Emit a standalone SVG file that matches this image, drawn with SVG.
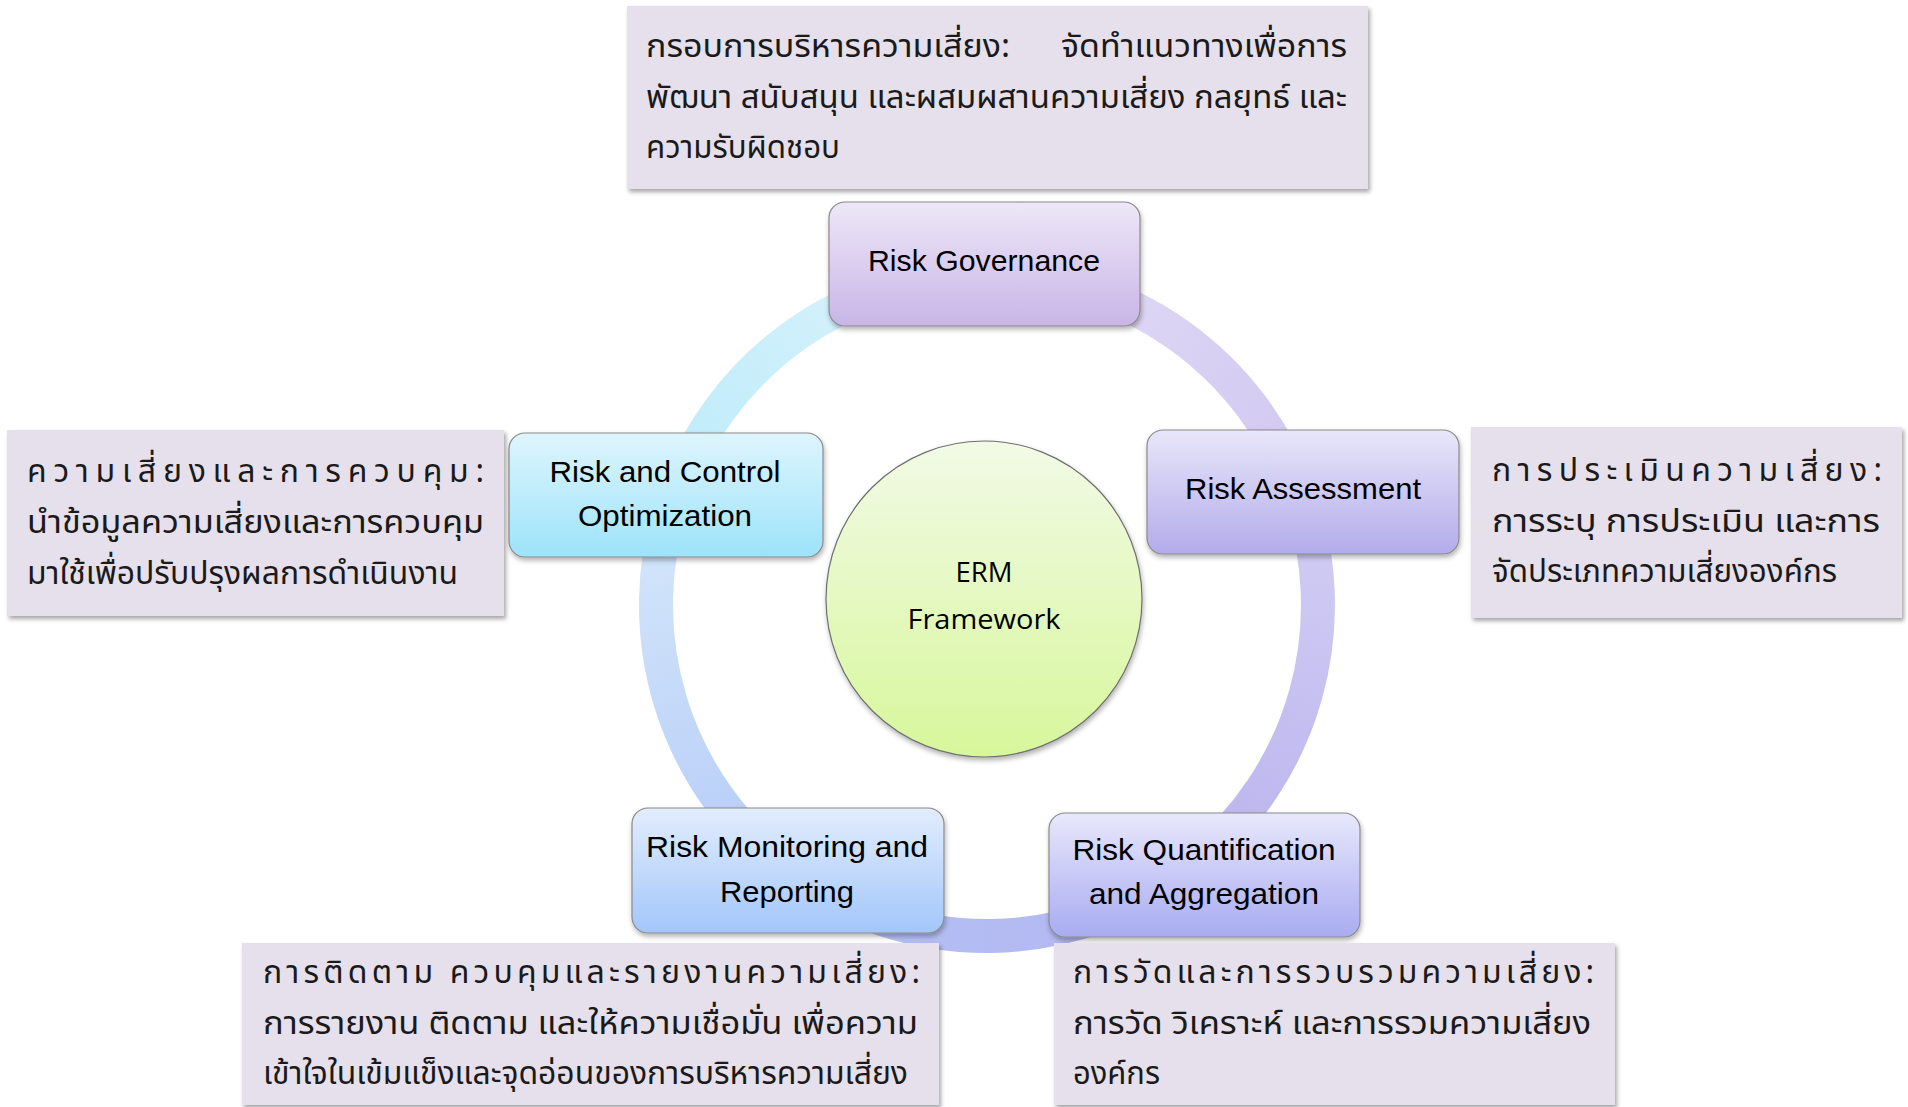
<svg xmlns="http://www.w3.org/2000/svg" width="1908" height="1107" viewBox="0 0 1908 1107">
<style>
.call{fill:#E5E0EC;filter:url(#sh)}
.node{stroke:#8A8A8A;stroke-width:1.2;filter:url(#shn)}
.th{font-family:"Noto Sans Thai","Noto Sans","DejaVu Sans",sans-serif;font-size:32px;fill:#1a1a1a}
.en{font-family:"Liberation Sans Narrow","Liberation Sans",sans-serif;font-size:30px;fill:#000;text-anchor:middle}
.erm{font-family:"Open Sans","Liberation Sans",sans-serif;font-size:28px;fill:#000;text-anchor:middle}
.arc{fill:none;stroke-width:34}
</style>
<defs>
<filter id="sh" x="-5%" y="-5%" width="110%" height="115%"><feDropShadow dx="2" dy="3" stdDeviation="2" flood-color="#000" flood-opacity="0.35"/></filter>
<filter id="shn" x="-5%" y="-5%" width="110%" height="115%"><feDropShadow dx="1" dy="3" stdDeviation="2.5" flood-color="#000" flood-opacity="0.3"/></filter>
<linearGradient id="gGov" x1="0" y1="0" x2="0" y2="1"><stop offset="0" stop-color="#EEE7F8"/><stop offset="1" stop-color="#C8B5E6"/></linearGradient>
<linearGradient id="gAss" x1="0" y1="0" x2="0" y2="1"><stop offset="0" stop-color="#E8E6F9"/><stop offset="1" stop-color="#B3ACEB"/></linearGradient>
<linearGradient id="gCtl" x1="0" y1="0" x2="0" y2="1"><stop offset="0" stop-color="#DEF5FD"/><stop offset="1" stop-color="#9DE3FA"/></linearGradient>
<linearGradient id="gMon" x1="0" y1="0" x2="0" y2="1"><stop offset="0" stop-color="#E2EDFD"/><stop offset="1" stop-color="#A3C6FA"/></linearGradient>
<linearGradient id="gQua" x1="0" y1="0" x2="0" y2="1"><stop offset="0" stop-color="#E8E8FC"/><stop offset="1" stop-color="#A8ABF1"/></linearGradient>
<linearGradient id="gErm" x1="0" y1="0" x2="0" y2="1"><stop offset="0" stop-color="#F2FAE6"/><stop offset="1" stop-color="#D7F79B"/></linearGradient>
<linearGradient id="a1" gradientUnits="userSpaceOnUse" x1="987" y1="274" x2="1299" y2="493"><stop offset="0" stop-color="#E6DEF6"/><stop offset="1" stop-color="#CFC7F1"/></linearGradient>
<linearGradient id="a2" gradientUnits="userSpaceOnUse" x1="1299" y1="493" x2="1195" y2="862"><stop offset="0" stop-color="#D3CEF4"/><stop offset="1" stop-color="#BAB4EE"/></linearGradient>
<linearGradient id="a3" gradientUnits="userSpaceOnUse" x1="1195" y1="862" x2="788" y2="869"><stop offset="0" stop-color="#B5B4F0"/><stop offset="1" stop-color="#B2C2F6"/></linearGradient>
<linearGradient id="a4" gradientUnits="userSpaceOnUse" x1="788" y1="869" x2="674" y2="497"><stop offset="0" stop-color="#B5CBF7"/><stop offset="1" stop-color="#D5E8FB"/></linearGradient>
<linearGradient id="a5" gradientUnits="userSpaceOnUse" x1="674" y1="497" x2="987" y2="274"><stop offset="0" stop-color="#BEEBFA"/><stop offset="1" stop-color="#DDF4FC"/></linearGradient>
</defs>

<g id="connectors">
<path class="arc" stroke="url(#a1)" d="M987,274 A331,331 0 0 1 1298.6,493.4"/>
<path class="arc" stroke="url(#a2)" d="M1298.6,493.4 A331,331 0 0 1 1195.3,862.2"/>
<path class="arc" stroke="url(#a3)" d="M1195.3,862.2 A331,331 0 0 1 787.8,869.3"/>
<path class="arc" stroke="url(#a4)" d="M787.8,869.3 A331,331 0 0 1 674,497.2"/>
<path class="arc" stroke="url(#a5)" d="M674,497.2 A331,331 0 0 1 987,274"/>
</g>

<g id="erm">
<circle cx="984" cy="599" r="158" fill="url(#gErm)" stroke="#6F6F6F" stroke-width="1.2" filter="url(#shn)"/>
<text class="erm" x="984" y="582" textLength="57" lengthAdjust="spacingAndGlyphs">ERM</text>
<text class="erm" x="984" y="629" textLength="153" lengthAdjust="spacingAndGlyphs">Framework</text>
</g>

<g id="governance">
<rect class="node" x="829" y="202" width="311" height="124" rx="16" fill="url(#gGov)"/>
<text class="en" x="984" y="271" textLength="232" lengthAdjust="spacingAndGlyphs">Risk Governance</text>
</g>
<g id="assessment">
<rect class="node" x="1147" y="430" width="312" height="124" rx="16" fill="url(#gAss)"/>
<text class="en" x="1303" y="499" textLength="236" lengthAdjust="spacingAndGlyphs">Risk Assessment</text>
</g>
<g id="control">
<rect class="node" x="509" y="433" width="314" height="124" rx="16" fill="url(#gCtl)"/>
<text class="en" x="665" y="482" textLength="231" lengthAdjust="spacingAndGlyphs">Risk and Control</text>
<text class="en" x="665" y="526" textLength="174" lengthAdjust="spacingAndGlyphs">Optimization</text>
</g>
<g id="monitoring">
<rect class="node" x="632" y="808" width="312" height="125" rx="16" fill="url(#gMon)"/>
<text class="en" x="787" y="857" textLength="282" lengthAdjust="spacingAndGlyphs">Risk Monitoring and</text>
<text class="en" x="787" y="902" textLength="134" lengthAdjust="spacingAndGlyphs">Reporting</text>
</g>
<g id="quantification">
<rect class="node" x="1049" y="813" width="311" height="124" rx="16" fill="url(#gQua)"/>
<text class="en" x="1204" y="860" textLength="263" lengthAdjust="spacingAndGlyphs">Risk Quantification</text>
<text class="en" x="1204" y="904" textLength="230" lengthAdjust="spacingAndGlyphs">and Aggregation</text>
</g>

<g id="note-governance">
<rect class="call" x="627" y="6" width="741" height="183"/>
<text class="th" x="646" y="57" textLength="364" lengthAdjust="spacingAndGlyphs">กรอบการบริหารความเสี่ยง:</text>
<text class="th" x="1061" y="57" textLength="286" lengthAdjust="spacingAndGlyphs">จัดทำแนวทางเพื่อการ</text>
<text class="th" x="646" y="108" textLength="701" lengthAdjust="spacingAndGlyphs">พัฒนา สนับสนุน และผสมผสานความเสี่ยง กลยุทธ์ และ</text>
<text class="th" x="646" y="158" textLength="194" lengthAdjust="spacingAndGlyphs">ความรับผิดชอบ</text>
</g>
<g id="note-control">
<rect class="call" x="7" y="430" width="497" height="186"/>
<text class="th" x="27" y="482" textLength="457" lengthAdjust="spacing">ความเสี่ยงและการควบคุม:</text>
<text class="th" x="27" y="533" textLength="457" lengthAdjust="spacingAndGlyphs">นำข้อมูลความเสี่ยงและการควบคุม</text>
<text class="th" x="27" y="584" textLength="431" lengthAdjust="spacingAndGlyphs">มาใช้เพื่อปรับปรุงผลการดำเนินงาน</text>
</g>
<g id="note-assessment">
<rect class="call" x="1471" y="427" width="431" height="191"/>
<text class="th" x="1492" y="481" textLength="390" lengthAdjust="spacing">การประเมินความเสี่ยง:</text>
<text class="th" x="1492" y="532" textLength="388" lengthAdjust="spacingAndGlyphs">การระบุ การประเมิน และการ</text>
<text class="th" x="1492" y="582" textLength="345" lengthAdjust="spacingAndGlyphs">จัดประเภทความเสี่ยงองค์กร</text>
</g>
<g id="note-monitoring">
<rect class="call" x="242" y="943" width="697" height="162"/>
<text class="th" x="263" y="983" textLength="657" lengthAdjust="spacing">การติดตาม ควบคุมและรายงานความเสี่ยง:</text>
<text class="th" x="263" y="1034" textLength="655" lengthAdjust="spacingAndGlyphs">การรายงาน ติดตาม และให้ความเชื่อมั่น เพื่อความ</text>
<text class="th" x="263" y="1084" textLength="645" lengthAdjust="spacingAndGlyphs">เข้าใจในเข้มแข็งและจุดอ่อนของการบริหารความเสี่ยง</text>
</g>
<g id="note-quantification">
<rect class="call" x="1054" y="943" width="561" height="162"/>
<text class="th" x="1073" y="983" textLength="521" lengthAdjust="spacing">การวัดและการรวบรวมความเสี่ยง:</text>
<text class="th" x="1073" y="1034" textLength="518" lengthAdjust="spacingAndGlyphs">การวัด วิเคราะห์ และการรวมความเสี่ยง</text>
<text class="th" x="1073" y="1084" textLength="87" lengthAdjust="spacingAndGlyphs">องค์กร</text>
</g>
</svg>
